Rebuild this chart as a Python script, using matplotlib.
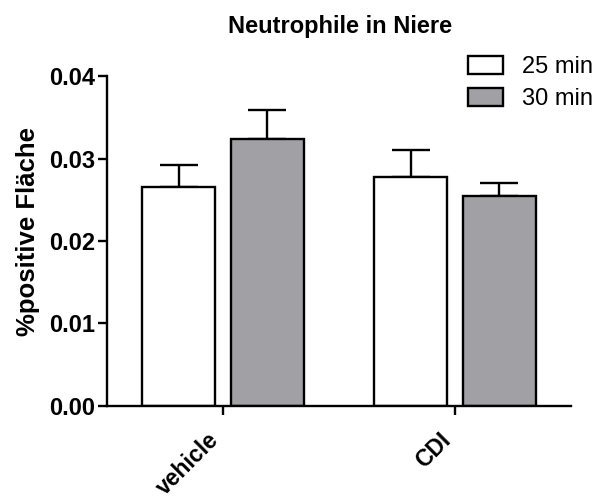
import numpy as np
import matplotlib
matplotlib.use("Agg")
import matplotlib.pyplot as plt

plt.rcParams['font.family'] = ['Liberation Sans', 'DejaVu Sans']

groups = ['vehicle', 'CDI']
series = ['25 min', '30 min']
means_25 = [0.0266, 0.0278]
sem_25 = [0.0026, 0.0032]
means_30 = [0.0324, 0.0254]
sem_30 = [0.0035, 0.0017]

colors = ['white', '#a1a1a5']
lw = 1.7

fig = plt.figure(figsize=(6.04, 5.01), dpi=100)
ax = fig.add_axes([0.1772, 0.1904, 0.7682, 0.6573])

x = np.arange(len(groups))
width = 0.315
offset = 0.19

for i, (m, s) in enumerate([(means_25, sem_25), (means_30, sem_30)]):
    pos = x + (i * 2 - 1) * offset
    ax.bar(pos, m, width, color=colors[i], edgecolor='black', linewidth=lw,
           label=series[i], zorder=2)
    ax.errorbar(pos, m, yerr=[np.zeros(len(s)), s], fmt='none', ecolor='black',
                elinewidth=lw, capsize=13.5, capthick=lw, zorder=1)

ax.set_xlim(-0.5, 1.5)
ax.set_ylim(0, 0.04)
ax.set_yticks([0, 0.01, 0.02, 0.03, 0.04])
ax.set_yticklabels(['0.00', '0.01', '0.02', '0.03', '0.04'], fontsize=17, fontweight='bold')
ax.set_xticks(x)
ax.set_xticklabels(groups, fontsize=16.5, fontweight='bold', rotation=45,
                   ha='right', va='top', rotation_mode='default')

for side in ['top', 'right']:
    ax.spines[side].set_visible(False)
for side in ['left', 'bottom']:
    ax.spines[side].set_linewidth(lw)
ax.tick_params(axis='both', width=lw, length=6.5, pad=2)
ax.tick_params(axis='x', pad=10)

ax.set_ylabel('%positive Fläche', fontsize=18.5, fontweight='bold')
ax.yaxis.set_label_coords(-0.145, 0.53)
fig.text(0.563, 0.947, 'Neutrophile in Niere', fontsize=17, fontweight='bold',
         ha='center', va='center')

fig.legend(loc='upper left', bbox_to_anchor=(468 / 604, 1 - 56 / 501),
           frameon=False, fontsize=17, borderpad=0, borderaxespad=0,
           handlelength=1.48, handleheight=0.8, handletextpad=0.8,
           labelspacing=0.42)

fig.savefig('out.png', dpi=100)
